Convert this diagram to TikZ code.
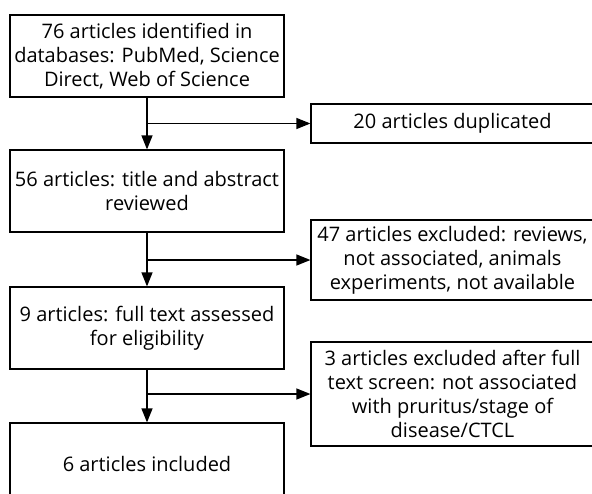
\documentclass[tikz,border=0pt]{standalone}
\usepackage{fontspec}
\setmainfont{Open Sans}
\usetikzlibrary{arrows.meta}
\begin{document}
\begin{tikzpicture}[x=1pt,y=-1pt,
  box/.style={draw,line width=1.2pt,align=center,inner sep=0pt,
    font=\fontsize{20}{24}\selectfont},
  arr/.style={line width=1.2pt,-{Triangle[length=14pt,width=11pt]}}]
\clip (0,0) rectangle (592,493);
\useasboundingbox (0,0) rectangle (592,493);
\node[box,minimum width=274pt,minimum height=82pt] (b1) at (147,56) {76 articles identified in\\databases: PubMed, Science\\Direct, Web of Science};
\node[box,minimum width=283pt,minimum height=39pt] (dup) at (452.5,123.5) {20 articles duplicated};
\node[box,minimum width=274pt,minimum height=82pt] (b2) at (147,191) {56 articles: title and abstract\\reviewed};
\node[box,minimum width=283pt,minimum height=80pt] (ex1) at (452.5,260) {47 articles excluded: reviews,\\not associated, animals\\experiments, not available};
\node[box,minimum width=274pt,minimum height=82pt] (b3) at (147,328) {9 articles: full text assessed\\for eligibility};
\node[box,minimum width=283pt,minimum height=104pt] (ex2) at (452.5,394) {3 articles excluded after full\\text screen: not associated\\with pruritus/stage of\\disease/CTCL};
\node[box,minimum width=274pt,minimum height=82pt] (b4) at (147,464) {6 articles included};
\draw[arr] (b1) -- (b2);
\draw[arr] (b1.south |- dup.west) -- (dup.west);
\draw[arr] (b2) -- (b3);
\draw[arr] (b2.south |- ex1.west) -- (ex1.west);
\draw[arr] (b3) -- (b4);
\draw[arr] (b3.south |- ex2.west) -- (ex2.west);
\end{tikzpicture}
\end{document}
